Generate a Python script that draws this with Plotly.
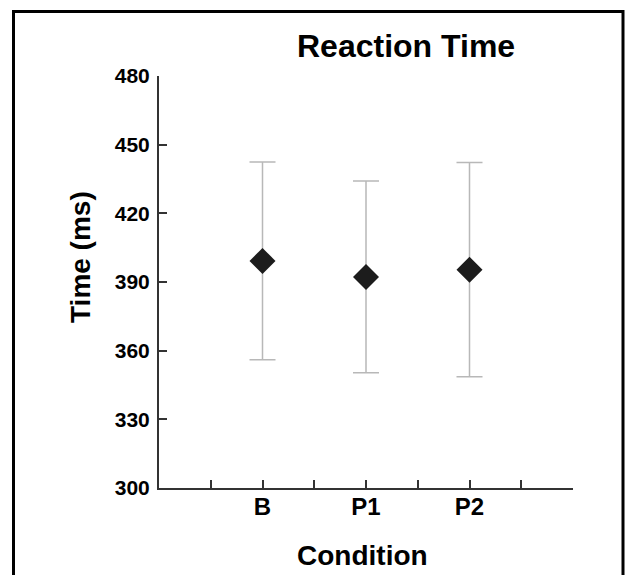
import plotly.graph_objects as go

categories = ["B", "P1", "P2"]
mean_rt = [399.2, 392.2, 395.4]
err_rt = [43.2, 41.9, 46.8]
y_ticks = [300, 330, 360, 390, 420, 450, 480]

# categories sit on every other tick of an 8-interval axis
x_pos = [2 * (i + 1) for i in range(len(categories))]
tickvals = list(range(9))
ticktext = [""] * 9
for p, c in zip(x_pos, categories):
    ticktext[p] = c

W, H = 627, 575
L, R, T, B = 159, 54, 76, 87
pw, ph = W - L - R, H - T - B

def px(x):
    return (x - L) / pw

def py(y):
    return (H - B - y) / ph

FONT = "Liberation Sans, Arial, sans-serif"

fig = go.Figure()
fig.add_trace(go.Scatter(
    x=x_pos, y=mean_rt, mode="markers",
    marker=dict(symbol="diamond", size=20, color="#1c1c1c",
                line=dict(width=0)),
    error_y=dict(type="data", array=err_rt, visible=True,
                 color="#b8b8b8", thickness=1.5, width=13),
    showlegend=False,
))

fig.update_layout(
    width=W, height=H,
    margin=dict(l=L, r=R, t=T, b=B, pad=0),
    paper_bgcolor="white", plot_bgcolor="white",
    font=dict(family=FONT, color="black"),
    xaxis=dict(range=[0, 8], tickmode="array", tickvals=tickvals,
               ticktext=ticktext, ticks="inside", ticklen=8, tickwidth=1.5,
               tickcolor="#333", showline=True, linecolor="#333",
               linewidth=2, showgrid=False, zeroline=False,
               ticklabelstandoff=-4,
               tickfont=dict(family=FONT, size=24, color="black", weight="bold")),
    yaxis=dict(range=[300, 480], tickmode="array", tickvals=y_ticks,
               ticks="inside", ticklen=8, tickwidth=1.5, tickcolor="#333",
               showline=True, linecolor="#333", linewidth=2,
               showgrid=False, zeroline=False, ticklabelstandoff=3,
               tickfont=dict(family=FONT, size=21, color="black", weight="bold")),
    shapes=[dict(type="rect", xref="paper", yref="paper",
                 x0=px(13.5), x1=px(623), y0=py(590), y1=py(11.5),
                 line=dict(color="black", width=3), fillcolor="rgba(0,0,0,0)",
                 layer="above")],
    annotations=[
        dict(text="<b>Reaction Time</b>", xref="paper", yref="paper",
             x=px(405.5), y=py(46), xanchor="center", yanchor="middle",
             showarrow=False, font=dict(family=FONT, size=32, color="black")),
        dict(text="<b>Time (ms)</b>", xref="paper", yref="paper",
             x=px(80), y=py(257), xanchor="center", yanchor="middle",
             textangle=-90, showarrow=False,
             font=dict(family=FONT, size=28, color="black")),
        dict(text="<b>Condition</b>", xref="paper", yref="paper",
             x=px(362), y=py(555), xanchor="center", yanchor="middle",
             showarrow=False, font=dict(family=FONT, size=28, color="black")),
    ],
)

fig.write_html("out.html",
               config={"displayModeBar": False},
               post_script="document.body.style.margin='0px';document.body.style.overflow='hidden';")
